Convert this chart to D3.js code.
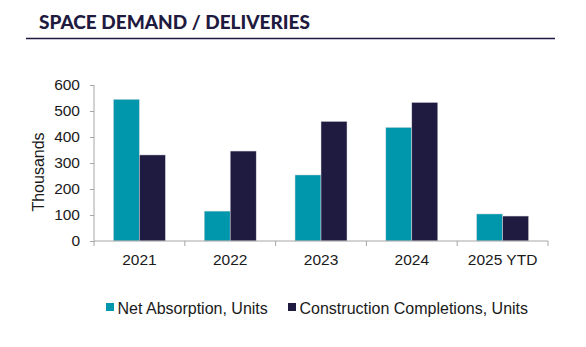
<!DOCTYPE html>
<html>
<head>
<meta charset="utf-8">
<script src="https://cdn.jsdelivr.net/npm/d3@7"></script>
<style>
  html, body { margin: 0; padding: 0; background: #fff; }
  svg { display: block; }
</style>
</head>
<body>
<svg id="chart" width="586" height="347"></svg>
<script>
// Data
const categories = ["2021", "2022", "2023", "2024", "2025 YTD"];
const seriesNames = ["Net Absorption, Units", "Construction Completions, Units"];
const netAbsorption = [545, 115, 254, 437, 104];
const completions = [331, 346, 460, 533, 96];
const yTicks = [0, 100, 200, 300, 400, 500, 600];

const colors = ["#0096ab", "#1f1a40"];
const series = [netAbsorption, completions];

const svg = d3.select("#chart");
const font = "'Liberation Sans', Arial, sans-serif";

// Title and rule
svg.append("text")
  .attr("x", 39).attr("y", 29)
  .attr("font-family", "Lato, 'Open Sans', sans-serif")
  .attr("font-weight", 900)
  .attr("font-size", 19)
  .attr("fill", "#1f1a40")
  .text("SPACE DEMAND / DELIVERIES");
svg.append("line")
  .attr("x1", 26).attr("x2", 555)
  .attr("y1", 38.5).attr("y2", 38.5)
  .attr("stroke", "#1f1a40").attr("stroke-width", 1.5);

// Plot area
const x0 = 94, x1 = 548, yTop = 85, yBot = 241;

const x = d3.scaleBand().domain(categories).range([x0, x1]).paddingInner(0).paddingOuter(0);
const xs = d3.scaleBand().domain(d3.range(series.length)).range([0, 52]);
const y = d3.scaleLinear().domain([0, 600]).range([yBot, yTop]);

const axisColor = "#a6a6a6";

// Bars
const groups = svg.append("g").selectAll("g")
  .data(categories)
  .join("g")
  .attr("transform", d => `translate(${x(d) + x.bandwidth() / 2 - 26},0)`);

groups.selectAll("rect")
  .data((d, i) => series.map((s, k) => ({ k, v: s[i] })))
  .join("rect")
  .attr("x", d => xs(d.k))
  .attr("width", xs.bandwidth())
  .attr("y", d => y(d.v))
  .attr("height", d => y(0) - y(d.v))
  .attr("fill", d => colors[d.k])
  .attr("stroke", "#d9d9e0")
  .attr("stroke-width", 0.5);

// Y axis
const yAxis = svg.append("g")
  .attr("transform", `translate(${x0},0)`)
  .call(d3.axisLeft(y).tickValues(yTicks).tickSize(4).tickPadding(10).tickFormat(d3.format("d")));
yAxis.select(".domain").attr("stroke", axisColor).attr("d", `M-0,${yTop}V${yBot + 5}`);
yAxis.selectAll(".tick line").attr("stroke", axisColor);
yAxis.selectAll("text").attr("font-family", font).attr("font-size", 15.5).attr("fill", "#1a1a1a");

// X axis
const xAxis = svg.append("g")
  .attr("transform", `translate(0,${yBot})`)
  .call(d3.axisBottom(x).tickSize(0).tickPadding(13));
xAxis.select(".domain").attr("stroke", axisColor).attr("d", `M${x0},0H${x1}`);
xAxis.selectAll("text").attr("font-family", font).attr("font-size", 15.5).attr("fill", "#1a1a1a");
// Category separators
svg.append("g").selectAll("line")
  .data(categories.slice(1).map(c => x(c)).concat([x1]))
  .join("line")
  .attr("x1", d => d).attr("x2", d => d)
  .attr("y1", yBot).attr("y2", yBot + 5)
  .attr("stroke", axisColor);

// Y axis title
svg.append("text")
  .attr("transform", `translate(44,172) rotate(-90)`)
  .attr("text-anchor", "middle")
  .attr("font-family", font).attr("font-size", 16).attr("fill", "#1a1a1a")
  .text("Thousands");

// Legend
const legendPos = [106, 288];
const legend = svg.append("g").selectAll("g")
  .data(seriesNames)
  .join("g")
  .attr("transform", (d, i) => `translate(${legendPos[i]},313.5)`);
legend.append("rect")
  .attr("x", 0).attr("y", -10.5).attr("width", 8).attr("height", 8)
  .attr("fill", (d, i) => colors[i]);
legend.append("text")
  .attr("x", 11.5).attr("y", 0)
  .attr("font-family", font).attr("font-size", 16).attr("fill", "#1a1a1a")
  .text(d => d);
</script>
</body>
</html>
